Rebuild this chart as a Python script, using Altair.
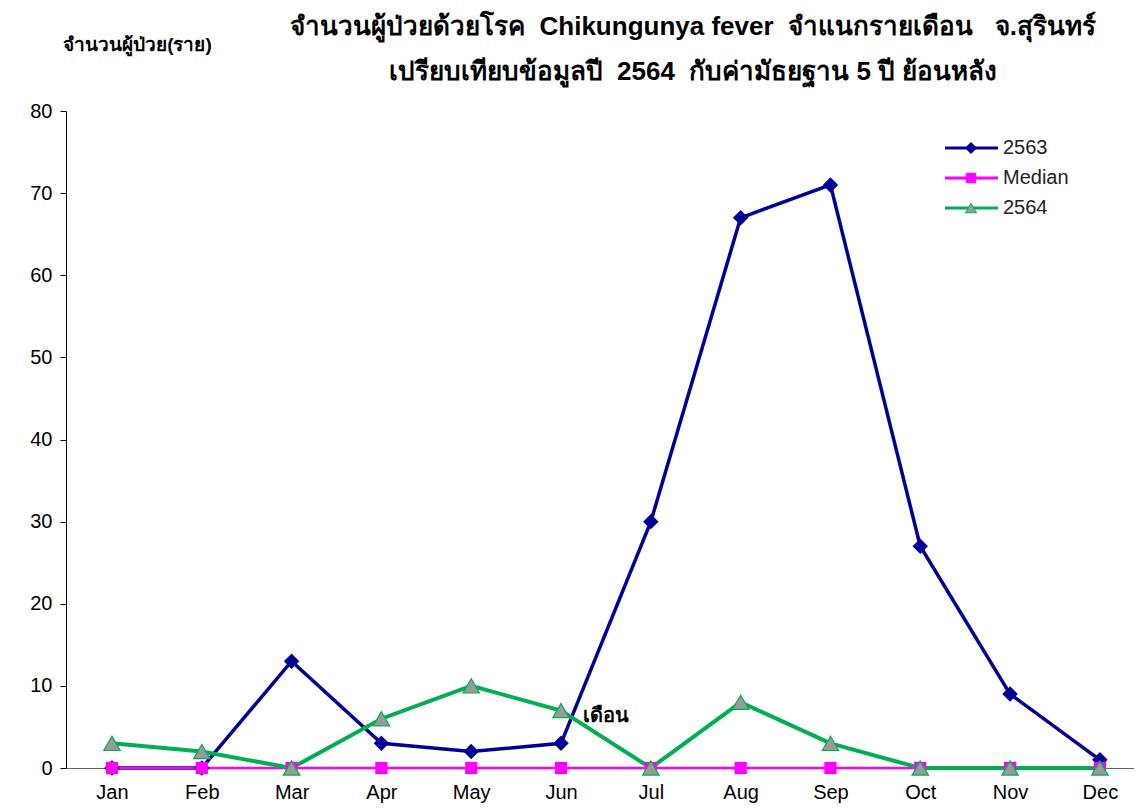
import altair as alt
import pandas as pd

months = ["Jan", "Feb", "Mar", "Apr", "May", "Jun", "Jul", "Aug", "Sep", "Oct", "Nov", "Dec"]
y2563 = [0, 0, 13, 3, 2, 3, 30, 67, 71, 27, 9, 1]
median = [0, 0, 0, 0, 0, 0, 0, 0, 0, 0, 0, 0]
y2564 = [3, 2, 0, 6, 10, 7, 0, 8, 3, 0, 0, 0]
series_names = ["2563", "Median", "2564"]
NB = "\u00a0"
title_lines = [f"จำนวนผู้ป่วยด้วยโรค {NB}Chikungunya fever {NB}จำแนกรายเดือน {NB}{NB}จ.สุรินทร์",
               f"เปรียบเทียบข้อมูลปี {NB}2564 {NB}กับค่ามัธยฐาน 5 ปี ย้อนหลัง"]

FONT = "Liberation Sans, Arial, sans-serif"
W, H = 1068, 657

month_js = "[" + ",".join(f"'{m}'" for m in months) + "]"
xs = alt.X("idx:Q",
           scale=alt.Scale(domain=[-0.512, 11.38], nice=False, zero=False),
           axis=alt.Axis(title=None, values=list(range(len(months))),
                         labelExpr=f"{month_js}[datum.value]",
                         labelAngle=0, labelFontSize=20, labelFont=FONT,
                         labelColor="#000", ticks=False, domainColor="#666", labelPadding=14,
                         grid=False))
ys = alt.Y("value:Q", scale=alt.Scale(domain=[0, 80], nice=False),
           axis=alt.Axis(values=list(range(0, 81, 10)), title="จำนวนผู้ป่วย(ราย)",
                         titleAngle=0, titleX=71, titleY=-57, titleAlign="center",
                         titleFontSize=19, titleFontWeight="bold", titleColor="#000",
                         labelFontSize=20, labelFont=FONT, labelColor="#000",
                         tickSize=6, tickColor="#000", domainColor="#000", grid=False,
                         labelPadding=8))

def series_df(vals):
    return pd.DataFrame({"idx": list(range(len(months))), "month": months, "value": vals})

l1 = alt.Chart(series_df(y2563)).mark_line(color="#000099", strokeWidth=3.5).encode(x=xs, y=ys)
p1 = alt.Chart(series_df(y2563)).mark_point(shape="diamond", filled=True, color="#000099",
                                            size=240, opacity=1).encode(x=xs, y=ys)
l2 = alt.Chart(series_df(median)).mark_line(color="#FF00FF", strokeWidth=2.5).encode(x=xs, y=ys)
p2 = alt.Chart(series_df(median)).mark_point(shape="square", filled=True, color="#FF00FF",
                                             size=150, opacity=1).encode(x=xs, y=ys)
l3 = alt.Chart(series_df(y2564)).mark_line(color="#00B050", strokeWidth=4).encode(x=xs, y=ys)
p3 = alt.Chart(series_df(y2564)).mark_point(shape="triangle-up", filled=True, fill="#999999",
                                            stroke="#00B050", strokeWidth=1.2, size=270,
                                            opacity=1).encode(x=xs, y=ys)

xlab = alt.Chart(pd.DataFrame({"idx": [months.index("Jun")], "value": [6.3], "t": ["เดือน"]})).mark_text(
    fontSize=20, fontWeight="bold", color="#000", align="left", dx=22, dy=0
).encode(x=xs, y=ys, text="t:N")

# title as text
title_layers = []
for i, t in enumerate(title_lines):
    title_layers.append(alt.Chart(pd.DataFrame({"t": [t]})).mark_text(
        fontSize=26, fontWeight="bold", color="#000", align="center", baseline="middle"
    ).encode(x=alt.value(627), y=alt.value(-84 + 45 * i), text="t:N"))

# manual legend
leg_layers = []
styles = [
    ("#000099", "diamond", "#000099", "#000099", 120),
    ("#FF00FF", "square", "#FF00FF", "#FF00FF", 90),
    ("#00B050", "triangle-up", "#999999", "#00B050", 120),
]
for i, (name, st) in enumerate(zip(series_names, styles)):
    col, shp, fill, stroke, sz = st
    yy = 37 + 30 * i
    d = pd.DataFrame({"t": [name]})
    leg_layers.append(alt.Chart(d).mark_rule(color=col, strokeWidth=3).encode(
        x=alt.value(879), x2=alt.value(932), y=alt.value(yy)))
    leg_layers.append(alt.Chart(d).mark_point(shape=shp, filled=True, fill=fill, stroke=stroke,
                                              strokeWidth=1, size=sz, opacity=1).encode(
        x=alt.value(905), y=alt.value(yy)))
    leg_layers.append(alt.Chart(d).mark_text(align="left", baseline="middle", fontSize=20,
                                             font=FONT, color="#222").encode(
        x=alt.value(937), y=alt.value(yy), text="t:N"))

chart = alt.layer(l1, l2, l3, p1, p2, p3, xlab, *title_layers, *leg_layers).properties(
    width=W, height=H,
    autosize=alt.AutoSizeParams(type="none"),
    padding={"left": 58, "top": 103, "right": 0, "bottom": 39},
).configure(background="white", view=alt.ViewConfig(stroke=None))

chart.save("out.html", embed_options={"renderer": "svg", "actions": False})
